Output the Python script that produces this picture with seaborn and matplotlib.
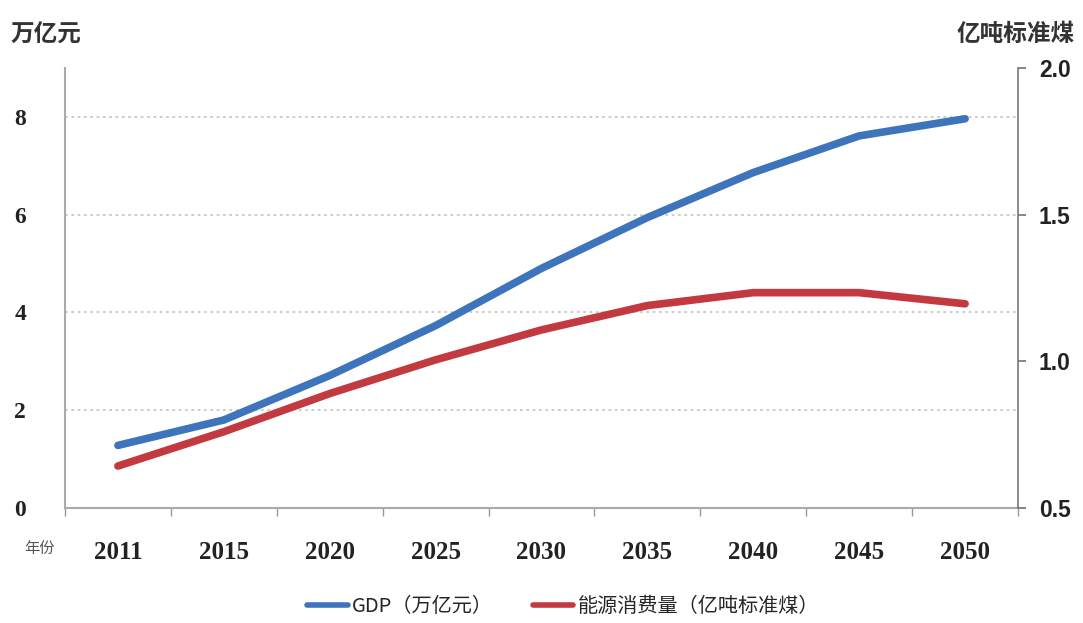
import numpy as np
import pandas as pd
import matplotlib.pyplot as plt
import seaborn as sns
from matplotlib.lines import Line2D

years = ['2011', '2015', '2020', '2025', '2030', '2035', '2040', '2045', '2050']
gdp = [1.28, 1.80, 2.71, 3.73, 4.90, 5.94, 6.86, 7.61, 7.96]
energy = [0.643, 0.76, 0.89, 1.005, 1.107, 1.19, 1.234, 1.234, 1.196]

blue = '#3d74bb'
red = '#c23a40'

sns.set_theme(style='white')
plt.rcParams['font.family'] = ['Noto Sans CJK SC', 'DejaVu Sans']

df = pd.DataFrame({'pos': np.arange(len(years)), 'year': years, 'gdp': gdp, 'energy': energy})

fig = plt.figure(figsize=(10.83, 6.23), dpi=100)
ax = fig.add_axes([0.060, 0.1846, 0.880, 0.7064])
ax2 = ax.twinx()

sns.lineplot(data=df, x='pos', y='gdp', ax=ax, color=blue, lw=5.5, solid_capstyle='round')
sns.lineplot(data=df, x='pos', y='energy', ax=ax2, color=red, lw=5.5, solid_capstyle='round')

ax.set_xlim(-0.5, len(years) - 0.5)
ax.set_ylim(0, 9)
ax2.set_ylim(0.5, 2.0)

ax.set_yticks([0, 2, 4, 6, 8])
ax.set_yticklabels(['0', '2', '4', '6', '8'], family='Liberation Serif', fontweight='bold', fontsize=17, color='#222222')
ax2.set_yticks([0.5, 1.0, 1.5, 2.0])
ax2.set_yticklabels(['0.5', '1.0', '1.5', '2.0'], family='Liberation Sans', fontweight='bold', fontsize=16.5, color='#222222')

ax.set_xticks(df['pos'])
ax.set_xticklabels(years, family='Liberation Serif', fontweight='bold', fontsize=18, color='#222222')
ax.set_xticks(np.arange(-0.5, len(years)), minor=True)
ax.tick_params(axis='x', which='major', length=0, pad=24)
ax.tick_params(axis='x', which='minor', length=6, color='#999999', direction='out', bottom=True)
ax.tick_params(axis='y', length=0, pad=28)
ax2.tick_params(axis='y', length=6, color='#777777', direction='out', right=True, pad=9)

for v in [2, 4, 6, 8]:
    ax.axhline(v, color='#c8c8c8', lw=1.3, ls=(0, (1.5, 2)), zorder=0)

for a in (ax, ax2):
    a.set_xlabel('')
    a.set_ylabel('')
    a.spines['top'].set_visible(False)
ax.spines['right'].set_visible(False)
ax2.spines['left'].set_visible(False)
ax2.spines['bottom'].set_visible(False)
ax.spines['left'].set_color('#aaaaaa')
ax.spines['left'].set_linewidth(1.5)
ax.spines['bottom'].set_color('#aaaaaa')
ax.spines['bottom'].set_linewidth(1.5)
ax2.spines['right'].set_color('#777777')
ax2.spines['right'].set_linewidth(1.2)

fig.text(0.010, 0.945, '万亿元', fontsize=17, fontweight='bold', color='#333333', ha='left', va='center')
fig.text(0.992, 0.945, '亿吨标准煤', fontsize=17, fontweight='bold', color='#333333', ha='right', va='center')
fig.text(0.022, 0.120, '年份', fontsize=11, color='#555555', ha='left', va='center')

handles = [Line2D([], [], color=blue, lw=4), Line2D([], [], color=red, lw=4)]
labels = ['GDP（万亿元）', '能源消费量（亿吨标准煤）']
fig.legend(handles, labels, loc='center', bbox_to_anchor=(0.52, 0.027), ncol=2, frameon=False,
           fontsize=14.5, handlelength=2.0, handletextpad=0.2, columnspacing=2.0)

fig.savefig('out.png', dpi=100)
